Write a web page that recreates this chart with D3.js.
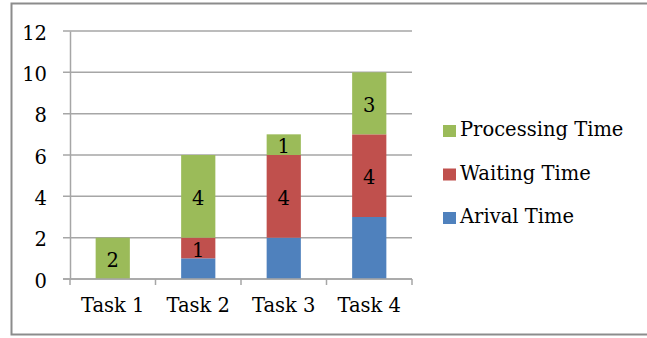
<!DOCTYPE html>
<html>
<head>
<meta charset="utf-8">
<script src="https://cdn.jsdelivr.net/npm/d3@7"></script>
<style>
  html, body { margin: 0; padding: 0; background: #fff; }
  svg { display: block; }
</style>
</head>
<body>
<script>
// Task scheduling timeline: stacked components per task
const tasks = ["Task 1", "Task 2", "Task 3", "Task 4"];
const arrivalTime = [0, 1, 2, 3];
const waitingTime = [0, 1, 4, 4];
const processingTime = [2, 4, 1, 3];
const yTicks = [0, 2, 4, 6, 8, 10, 12];

const seriesNames = ["Arival Time", "Waiting Time", "Processing Time"];
const seriesColors = ["#4F81BD", "#C0504D", "#9BBB59"];
const seriesShowLabel = [false, true, true];

const W = 647, H = 338;
const svg = d3.select("body").append("svg").attr("width", W).attr("height", H);

const fontSize = 19.5;
const gridColor = "#a6a6a6";

function styleText(sel) {
  sel.attr("font-family", "DejaVu Serif")
    .attr("font-size", fontSize)
    .attr("fill", "#000");
}

// Outer chart frame (right edge runs past the page)
svg.append("rect")
  .attr("x", 11.5).attr("y", 3.5)
  .attr("width", 680).attr("height", 331)
  .attr("fill", "none").attr("stroke", "#8c8c8c").attr("stroke-width", 2);

const x = d3.scaleBand().domain(tasks).range([70, 412]).padding(0);
const y = d3.scaleLinear().domain([0, 12]).range([279, 31]);

// Horizontal gridlines
svg.append("g").selectAll("line").data(yTicks).join("line")
  .attr("x1", 63).attr("x2", 412)
  .attr("y1", d => y(d)).attr("y2", d => y(d))
  .attr("stroke", gridColor).attr("stroke-width", 1.5);

// Stack the three components
const rows = tasks.map((t, i) => ({
  task: t, s0: arrivalTime[i], s1: waitingTime[i], s2: processingTime[i]
}));
const stack = d3.stack().keys(["s0", "s1", "s2"]);
const layers = stack(rows);

const barW = x.bandwidth() * 0.4;
const barX = d => x(d.data.task) + (x.bandwidth() - barW) / 2;

layers.forEach((layer, li) => {
  const g = svg.append("g");
  g.selectAll("rect").data(layer.filter(d => d[1] > d[0])).join("rect")
    .attr("x", barX)
    .attr("width", barW)
    .attr("y", d => y(d[1]))
    .attr("height", d => y(d[0]) - y(d[1]))
    .attr("fill", seriesColors[li]);
  if (seriesShowLabel[li]) {
    g.selectAll("text").data(layer.filter(d => d[1] > d[0])).join("text")
      .attr("x", d => x(d.data.task) + x.bandwidth() / 2)
      .attr("y", d => (y(d[0]) + y(d[1])) / 2)
      .attr("dy", "0.45em")
      .attr("text-anchor", "middle")
      .text(d => d[1] - d[0])
      .call(styleText);
  }
});

// Y axis
const yAxis = svg.append("g").attr("transform", "translate(70,0)")
  .call(d3.axisLeft(y).tickValues(yTicks).tickSize(0).tickPadding(23));
yAxis.select(".domain").attr("stroke", gridColor).attr("stroke-width", 1.5);
yAxis.selectAll(".tick text").attr("dy", "0.42em").call(styleText);

// X axis
const xAxis = svg.append("g").attr("transform", `translate(0,${y(0)})`)
  .call(d3.axisBottom(x).tickSize(0).tickPadding(19));
xAxis.select(".domain").remove();
xAxis.append("line").attr("x1", 63).attr("x2", 412).attr("y1", 0).attr("y2", 0)
  .attr("stroke", gridColor).attr("stroke-width", 1.5);
xAxis.selectAll("line.sep").data(d3.range(tasks.length + 1)).join("line")
  .attr("class", "sep")
  .attr("x1", i => 70 + i * x.step()).attr("x2", i => 70 + i * x.step())
  .attr("y1", 0).attr("y2", 6)
  .attr("stroke", gridColor).attr("stroke-width", 1.5);
xAxis.selectAll(".tick text").call(styleText);

// Legend (top series first)
const legendOrder = [2, 1, 0];
const legend = svg.append("g");
legendOrder.forEach((si, k) => {
  const cy = 131 + k * 43.5;
  legend.append("rect").attr("x", 443).attr("y", cy - 6).attr("width", 13).attr("height", 12)
    .attr("fill", seriesColors[si]);
  legend.append("text").attr("x", 460).attr("y", cy + 5)
    .text(seriesNames[si])
    .call(styleText);
});
</script>
</body>
</html>
